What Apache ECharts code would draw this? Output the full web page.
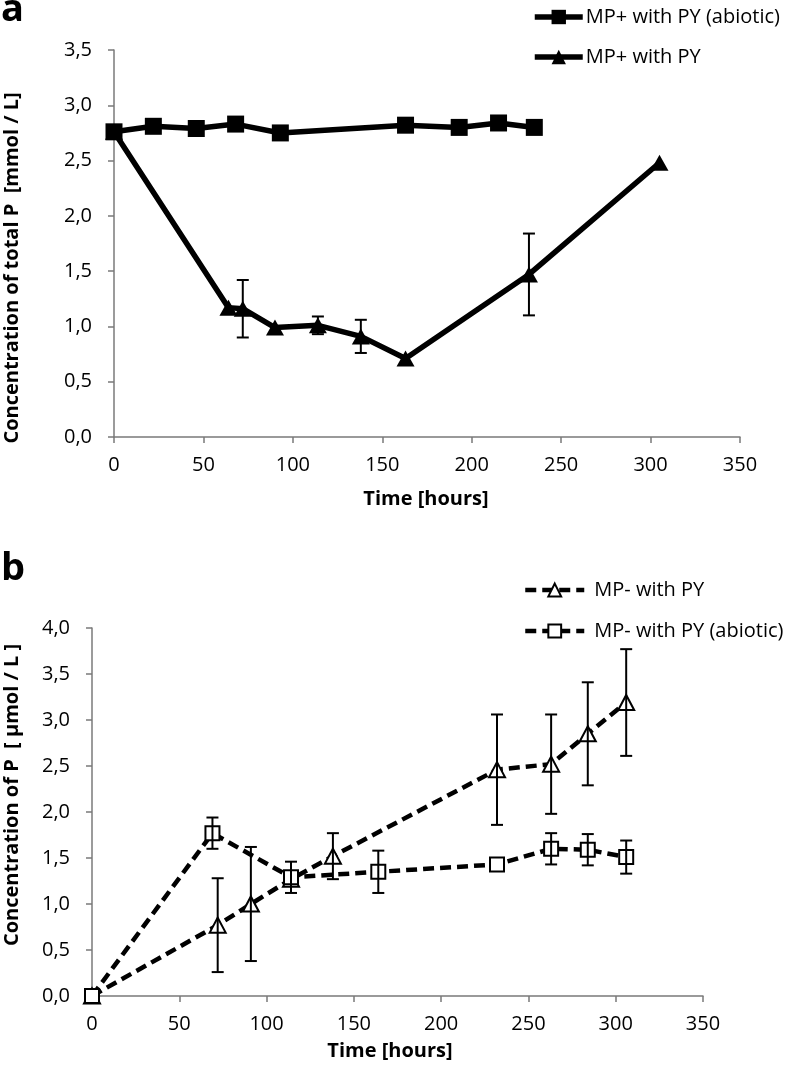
<!DOCTYPE html>
<html>
<head>
<meta charset="utf-8">
<script src="https://cdn.jsdelivr.net/npm/echarts@6/dist/echarts.min.js"></script>
<style>html,body{margin:0;padding:0;background:#fff}#c{width:792px;height:1065px}</style>
</head>
<body>
<div id="c"></div>
<script>
// ---- Panel a data ----
const aAbioticTime = [0, 22, 46, 68, 93, 163, 193, 215, 235];
const aAbioticConc = [2.76, 2.81, 2.79, 2.83, 2.75, 2.82, 2.80, 2.84, 2.80];
const aBioticTime = [0, 64, 72, 90, 114, 138, 163, 232, 305];
const aBioticConc = [2.76, 1.17, 1.16, 0.99, 1.01, 0.91, 0.71, 1.47, 2.48];
const aBioticErr  = [null, null, 0.26, null, 0.08, 0.15, null, 0.37, null];

// ---- Panel b data ----
const bBioticTime = [0, 72, 91, 114, 138, 232, 263, 284, 306];
const bBioticConc = [0, 0.77, 1.00, 1.27, 1.52, 2.46, 2.52, 2.85, 3.19];
const bBioticErr  = [null, 0.51, 0.62, null, 0.25, 0.60, 0.54, 0.56, 0.58];
const bAbioticTime = [0, 69, 114, 164, 232, 263, 284, 306];
const bAbioticConc = [0, 1.77, 1.29, 1.35, 1.43, 1.60, 1.59, 1.51];
const bAbioticErr  = [null, 0.17, 0.17, 0.23, null, 0.17, 0.17, 0.18];

const xTicks = [0, 50, 100, 150, 200, 250, 300, 350];
const yTicksA = [0, 0.5, 1, 1.5, 2, 2.5, 3, 3.5];
const yTicksB = [0, 0.5, 1, 1.5, 2, 2.5, 3, 3.5, 4];

const names = {
  a1: 'MP+ with PY (abiotic)', a2: 'MP+ with PY',
  b1: 'MP- with PY', b2: 'MP- with PY (abiotic)'
};

const FONT = 'Open Sans';
const zip = (xs, ys) => xs.map((x, i) => [x, ys[i]]);
const errData = (xs, ys, es) => xs.map((x, i) => [x, ys[i], es[i]]).filter(d => d[2] != null);

function errRender(lw, half) {
  return function (params, api) {
    const x = api.value(0), y = api.value(1), e = api.value(2);
    const t = api.coord([x, y + e]);
    const b = api.coord([x, y - e]);
    const st = { stroke: '#000', lineWidth: lw };
    return {
      type: 'group',
      children: [
        { type: 'line', shape: { x1: t[0], y1: t[1], x2: b[0], y2: b[1] }, style: st },
        { type: 'line', shape: { x1: t[0] - half, y1: t[1], x2: t[0] + half, y2: t[1] }, style: st },
        { type: 'line', shape: { x1: b[0] - half, y1: b[1], x2: b[0] + half, y2: b[1] }, style: st }
      ]
    };
  };
}

const fmt = v => v.toFixed(1).replace('.', ',');
const axisLine = { show: true, lineStyle: { color: '#7a7a7a', width: 1.5 } };
const axisTick = { show: true, inside: false, length: 6, lineStyle: { color: '#7a7a7a', width: 1.5 } };
const lab = { color: '#000', fontFamily: FONT, fontSize: 20 };

function xAxis(gi) {
  return {
    type: 'value', gridIndex: gi, min: xTicks[0], max: xTicks[xTicks.length - 1], interval: 50,
    axisLine, axisTick, splitLine: { show: false },
    axisLabel: Object.assign({ margin: 18 }, lab)
  };
}
function yAxis(gi, ticks) {
  return {
    type: 'value', gridIndex: gi, min: ticks[0], max: ticks[ticks.length - 1], interval: 0.5,
    axisLine, axisTick, splitLine: { show: false },
    axisLabel: Object.assign({ margin: 22, formatter: fmt }, lab)
  };
}

const chart = echarts.init(document.getElementById('c'), null, { renderer: 'canvas' });
chart.setOption({
  backgroundColor: '#fff',
  animation: false,
  grid: [
    { left: 114, top: 50, width: 626, height: 387 },
    { left: 92, top: 628, width: 611, height: 368 }
  ],
  xAxis: [xAxis(0), xAxis(1)],
  yAxis: [yAxis(0, yTicksA), yAxis(1, yTicksB)],
  legend: [
    {
      orient: 'vertical', left: 527, top: 2, itemGap: 20, itemWidth: 48, itemHeight: 18,
      data: [names.a1, names.a2],
      lineStyle: { width: 5.5, color: '#000' },
      textStyle: { color: '#000', fontFamily: FONT, fontSize: 20, padding: [0, 0, 0, -2] }
    },
    {
      orient: 'vertical', left: 518, top: 575, itemGap: 21, itemWidth: 59, itemHeight: 16,
      data: [names.b1, names.b2],
      lineStyle: { width: 4.5, color: '#000', type: [11, 6] },
      textStyle: { color: '#000', fontFamily: FONT, fontSize: 20, padding: [0, 0, 0, 5] }
    }
  ],
  graphic: [
    { type: 'text', left: 1, top: -9, style: { text: 'a', font: 'bold 38px "Open Sans"', fill: '#000' } },
    { type: 'text', left: 1, top: 550, style: { text: 'b', font: 'bold 38px "Open Sans"', fill: '#000' } },
    { type: 'text', x: 12, y: 268, rotation: Math.PI / 2,
      style: { text: 'Concentration of total P  [mmol / L]', font: 'bold 20px "Open Sans"', fill: '#000', align: 'center', verticalAlign: 'middle' } },
    { type: 'text', x: 12, y: 795, rotation: Math.PI / 2,
      style: { text: 'Concentration of P  [ μmol / L ]', font: 'bold 20px "Open Sans"', fill: '#000', align: 'center', verticalAlign: 'middle' } },
    { type: 'text', x: 426, y: 499,
      style: { text: 'Time [hours]', font: 'bold 20px "Open Sans"', fill: '#000', align: 'center', verticalAlign: 'middle' } },
    { type: 'text', x: 390, y: 1051,
      style: { text: 'Time [hours]', font: 'bold 20px "Open Sans"', fill: '#000', align: 'center', verticalAlign: 'middle' } }
  ],
  series: [
    {
      name: names.a1, type: 'line', xAxisIndex: 0, yAxisIndex: 0,
      data: zip(aAbioticTime, aAbioticConc),
      symbol: 'rect', symbolSize: 17,
      lineStyle: { color: '#000', width: 5.5 }, itemStyle: { color: '#000' }, z: 3
    },
    {
      name: names.a2, type: 'line', xAxisIndex: 0, yAxisIndex: 0,
      data: zip(aBioticTime, aBioticConc),
      symbol: 'triangle', symbolSize: [18, 16],
      lineStyle: { color: '#000', width: 5.5 }, itemStyle: { color: '#000' }, z: 2
    },
    {
      type: 'custom', xAxisIndex: 0, yAxisIndex: 0, z: 4,
      data: errData(aBioticTime, aBioticConc, aBioticErr),
      renderItem: errRender(2, 6)
    },
    {
      name: names.b1, type: 'line', xAxisIndex: 1, yAxisIndex: 1,
      data: zip(bBioticTime, bBioticConc),
      symbol: 'triangle', symbolSize: [16, 15],
      lineStyle: { color: '#000', width: 4.5, type: [11, 6] },
      itemStyle: { color: '#fff', borderColor: '#000', borderWidth: 2 }, z: 2
    },
    {
      name: names.b2, type: 'line', xAxisIndex: 1, yAxisIndex: 1,
      data: zip(bAbioticTime, bAbioticConc),
      symbol: 'rect', symbolSize: 14,
      lineStyle: { color: '#000', width: 4.5, type: [11, 6] },
      itemStyle: { color: '#fff', borderColor: '#000', borderWidth: 2 }, z: 3
    },
    {
      type: 'custom', xAxisIndex: 1, yAxisIndex: 1, z: 5,
      data: errData(bBioticTime, bBioticConc, bBioticErr),
      renderItem: errRender(2, 6)
    },
    {
      type: 'custom', xAxisIndex: 1, yAxisIndex: 1, z: 5,
      data: errData(bAbioticTime, bAbioticConc, bAbioticErr),
      renderItem: errRender(2, 6)
    }
  ]
});
</script>
</body>
</html>
